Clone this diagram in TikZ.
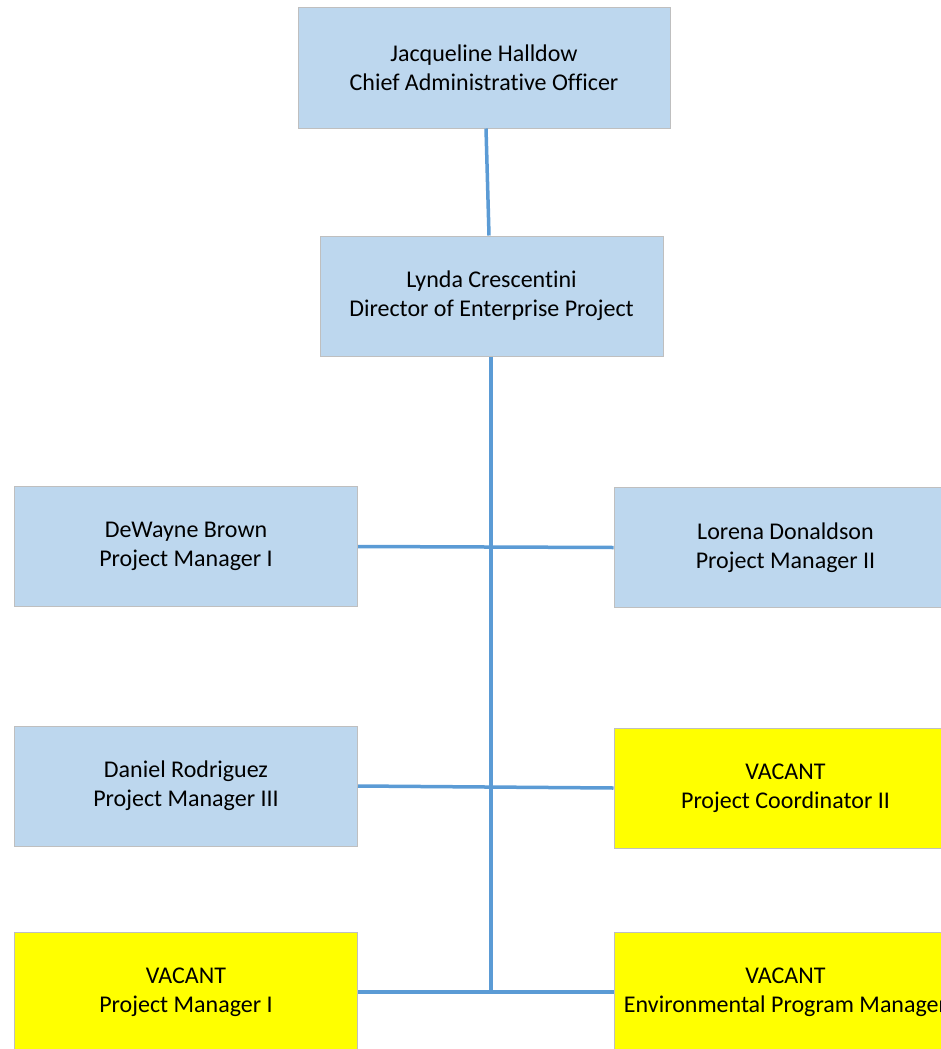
\documentclass[tikz,border=0pt]{standalone}
\usepackage{fontspec}
\setmainfont[Ligatures=NoCommon]{Carlito}
\definecolor{boxblue}{HTML}{BDD7EE}
\definecolor{boxline}{HTML}{BFBFBF}
\definecolor{vacant}{HTML}{FFFF00}
\definecolor{linkblue}{HTML}{5B9BD5}
\begin{document}
\begin{tikzpicture}[
    x=1pt, y=-1pt,
    box/.style={rectangle, draw=boxline, line width=1pt, minimum width=343pt, minimum height=120pt, align=center, inner sep=0pt, font=\fontsize{24}{29}\selectfont},
    staff/.style={box, fill=boxblue},
    open/.style={box, fill=vacant},
    link/.style={draw=linkblue, line width=3.5pt}
]
\useasboundingbox (0,0) rectangle (941,1049);
\clip (0,0) rectangle (941,1049);

% Leadership
\node[staff, minimum width=372pt] (cao) at (484, 68) {Jacqueline Halldow\\Chief Administrative Officer};
\node[staff] (director) at (491.5, 296) {Lynda Crescentini\\Director of Enterprise Project};

% Left column
\node[staff] (brown) at (186, 546.5) {DeWayne Brown\\Project Manager I};
\node[staff] (rodriguez) at (186, 786) {Daniel Rodriguez\\Project Manager III};
\node[open] (vacant_pm) at (186, 992) {VACANT\\Project Manager I};

% Right column
\node[staff] (donaldson) at (785.5, 547.5) {Lorena Donaldson\\Project Manager II};
\node[open] (vacant_pc) at (785.5, 788) {VACANT\\Project Coordinator II};
\node[open] (vacant_epm) at (785.5, 992) {VACANT\\Environmental Program Manager};

% Spine end
\coordinate (spine_end) at (491, 991);

% Links
\draw[link] (cao.south -| 486,0) -- (director.north -| 489,0);
\draw[link] (director.south -| 491,0) -- (spine_end);
\draw[link] (brown.east) -- (donaldson.west);
\draw[link] (rodriguez.east) -- (vacant_pc.west);
\draw[link] (vacant_pm.east) -- (vacant_epm.west);

\end{tikzpicture}
\end{document}
